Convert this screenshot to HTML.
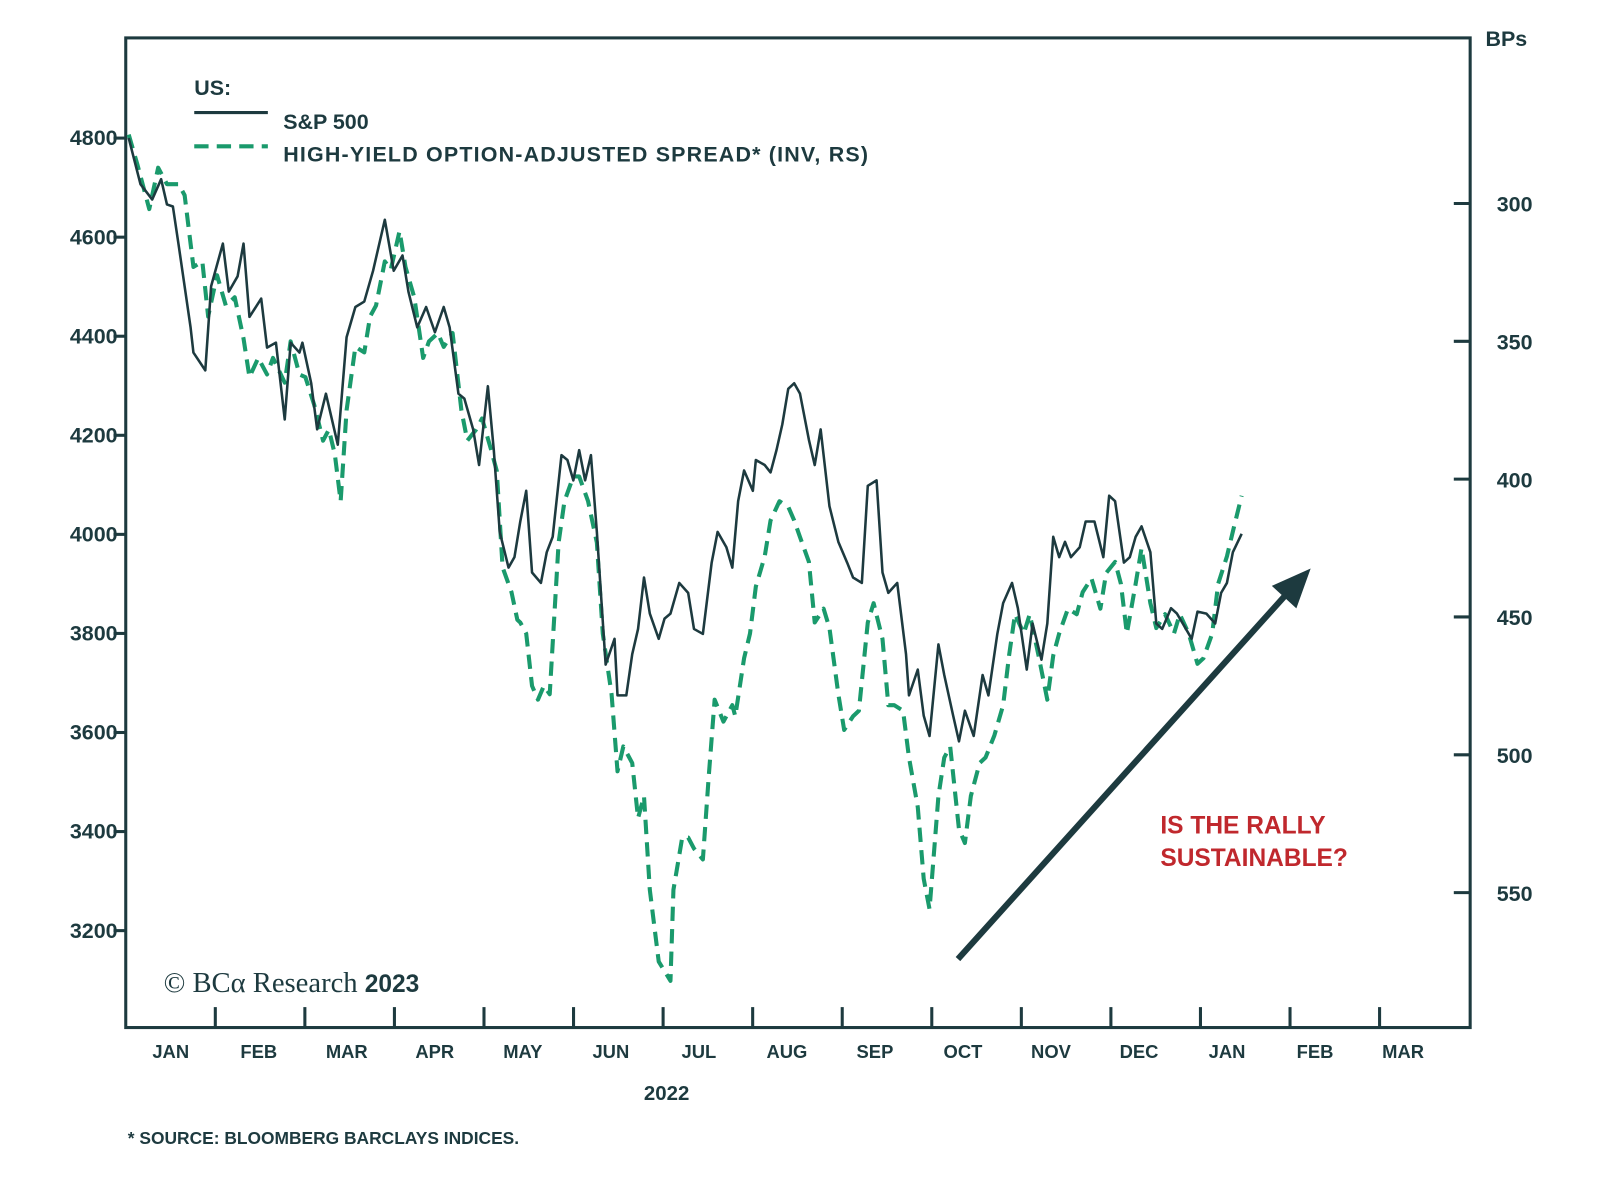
<!DOCTYPE html>
<html><head><meta charset="utf-8"><style>
html,body{margin:0;padding:0;background:#fff}
svg{display:block}
text{font-family:"Liberation Sans",sans-serif;fill:#1d3a3f;font-weight:bold}
</style></head><body>
<svg id="chart" width="1600" height="1182" viewBox="0 0 1565 1156" xmlns="http://www.w3.org/2000/svg">
<rect x="123" y="37" width="1315" height="968" fill="none" stroke="#1d3a3f" stroke-width="3"/>
<g id="axes"></g>
<g id="series"></g>
<text x="190" y="93" font-size="21">US:</text>
<line x1="190" y1="110" x2="262" y2="110" stroke="#1d3a3f" stroke-width="3"/>
<text x="277" y="126" font-size="21">S&amp;P 500</text>
<line x1="190" y1="143" x2="262" y2="143" stroke="#1a9a6c" stroke-width="4" stroke-dasharray="14,8"/>
<text x="277" y="158" font-size="21" textLength="572">HIGH-YIELD OPTION-ADJUSTED SPREAD* (INV, RS)</text>
<text x="1453" y="45" font-size="21">BPs</text>
<text x="652" y="1076" font-size="20" text-anchor="middle">2022</text>
<text x="125" y="1119" font-size="17">* SOURCE: BLOOMBERG BARCLAYS INDICES.</text>
<text x="160" y="970" font-size="28" style="font-family:'Liberation Serif',serif;font-weight:normal">© BCα Research <tspan style="font-family:'Liberation Sans',sans-serif;font-weight:bold" font-size="24">2023</tspan></text>
<line x1="937" y1="938" x2="1262" y2="577" stroke="#1d3a3f" stroke-width="6"/>
<polygon points="1282,556 1244,573 1268,595" fill="#1d3a3f"/>
<text x="1135" y="815" font-size="24" style="fill:#c0282d">IS THE RALLY</text>
<text x="1135" y="847" font-size="24" style="fill:#c0282d">SUSTAINABLE?</text>
</svg>
<script>
const spDays=[1,5,9,12,14,16,18,22,23,27,29,33,35,38,40,42,46,48,51,54,56,59,60,63,65,68,72,75,78,81,84,88,91,94,96,99,102,105,108,110,113,115,118,120,123,125,127,130,132,134,136,138,141,143,145,148,150,152,154,156,158,160,163,166,167,170,172,174,176,178,181,183,185,188,191,193,196,199,201,204,206,208,210,213,214,217,219,221,223,225,227,229,232,234,236,239,242,245,247,250,252,255,257,259,262,265,266,269,271,273,276,278,281,283,285,288,291,293,296,298,301,303,306,308,311,313,315,317,319,321,324,326,329,332,334,336,339,341,343,345,348,350,352,355,357,359,362,364,367,370,372,374,376,379];
const spValues=[4800,4707,4676,4717,4666,4662,4583,4418,4367,4331,4501,4587,4490,4521,4587,4439,4476,4377,4387,4232,4387,4367,4387,4305,4212,4284,4181,4398,4459,4470,4532,4635,4532,4563,4490,4418,4459,4408,4459,4418,4284,4274,4212,4140,4299,4170,4005,3933,3954,4026,4088,3923,3902,3964,3995,4160,4150,4109,4170,4109,4160,4005,3737,3789,3675,3675,3758,3809,3913,3840,3789,3830,3840,3902,3882,3809,3799,3943,4005,3974,3933,4067,4129,4088,4150,4140,4125,4170,4222,4294,4305,4284,4191,4140,4212,4057,3985,3943,3913,3902,4098,4109,3923,3882,3902,3758,3675,3727,3634,3593,3778,3716,3634,3582,3644,3593,3716,3675,3799,3861,3902,3851,3727,3820,3747,3820,3995,3954,3985,3954,3974,4026,4026,3954,4078,4067,3943,3954,3995,4016,3964,3820,3809,3851,3840,3820,3789,3844,3840,3820,3882,3902,3964,4001];
const hyDays=[1,4,8,11,14,18,20,23,26,28,31,34,37,40,42,45,48,50,54,56,59,61,64,67,69,71,73,75,78,81,83,85,88,90,93,95,98,101,103,106,108,111,114,116,119,121,124,126,128,131,133,134,136,138,140,142,144,147,149,152,154,157,160,162,165,167,169,172,174,176,178,181,185,186,189,191,193,196,198,200,203,206,207,210,212,214,217,219,222,225,227,229,232,234,237,239,242,244,247,249,252,254,257,259,261,264,266,269,271,273,276,278,280,283,285,287,290,292,295,298,300,302,305,307,310,313,315,317,320,323,325,328,331,333,336,338,340,343,345,348,350,353,356,358,361,364,366,369,371,374,376,379];
const hyValues=[275,286,302,287,293,293,297,323,321,341,326,337,334,349,363,356,362,356,365,350,362,363,373,386,382,391,408,375,352,354,341,337,321,324,310,323,334,356,350,347,352,347,375,386,382,378,389,397,432,441,451,452,456,475,480,475,478,423,408,399,399,408,423,456,478,506,497,503,523,515,549,575,582,549,530,530,534,538,508,480,488,482,486,465,456,439,428,415,408,410,415,421,430,452,447,454,478,491,486,484,452,445,458,482,482,484,501,519,545,556,515,501,497,527,532,515,503,501,493,482,464,449,456,449,464,480,464,456,447,449,441,436,447,434,430,438,456,438,425,445,454,449,456,449,456,467,465,456,438,428,419,406];
const leftTicks=[4800,4600,4400,4200,4000,3800,3600,3400,3200];
const rightTicks=[300,350,400,450,500,550];
const monthLabels=["JAN","FEB","MAR","APR","MAY","JUN","JUL","AUG","SEP","OCT","NOV","DEC","JAN","FEB","MAR"];

const NS="http://www.w3.org/2000/svg";
const X0=123,DAYPX=2.88,MONPX=87.6;
const xDay=d=>X0+d*DAYPX;
const xMon=m=>X0+m*MONPX;
const xLabel=i=>167+i*86.1;
const yLeft=v=>135+(4800-v)*96.9/200;
const yRight=b=>199+(b-300)*134.8/50;
const axes=document.getElementById('axes');
const series=document.getElementById('series');
function mk(tag,attrs,parent,txt){const e=document.createElementNS(NS,tag);for(const k in attrs)e.setAttribute(k,attrs[k]);if(txt!==undefined)e.textContent=txt;parent.appendChild(e);return e;}

leftTicks.forEach(v=>{
  const y=yLeft(v);
  const t=mk('line',{x1:111,x2:123,y1:y,y2:y,stroke:'#1d3a3f','stroke-width':3},axes);
  
  
  const l=mk('text',{x:115,y:y+7,'font-size':21,'text-anchor':'end'},axes,String(v));
  
  
});
rightTicks.forEach(b=>{
  const y=yRight(b);
  const t=mk('line',{x1:1422,x2:1438,y1:y,y2:y,stroke:'#1d3a3f','stroke-width':3},axes);
  
  
  const l=mk('text',{x:1464,y:y+8,'font-size':21},axes,String(b));
  
  
});
monthLabels.forEach((m,i)=>{
  if(i>0){
    const t=mk('line',{x1:xMon(i),x2:xMon(i),y1:985,y2:1005,stroke:'#1d3a3f','stroke-width':3},axes);
    
    
  }
  const l=mk('text',{x:xLabel(i),y:1035,'font-size':18,'text-anchor':'middle'},axes,m);
  
  
});

const hyPath=mk('path',{d:hyDays.map((d,i)=>(i?'L':'M')+xDay(d).toFixed(1)+','+yRight(hyValues[i]).toFixed(1)).join(''),fill:'none',stroke:'#1a9a6c','stroke-width':4,'stroke-dasharray':'14,8','stroke-linejoin':'round'},series);


const spPath=mk('path',{d:spDays.map((d,i)=>(i?'L':'M')+xDay(d).toFixed(1)+','+yLeft(spValues[i]).toFixed(1)).join(''),fill:'none',stroke:'#1d3a3f','stroke-width':2.5,'stroke-linejoin':'round'},series);


</script>
</body></html>
